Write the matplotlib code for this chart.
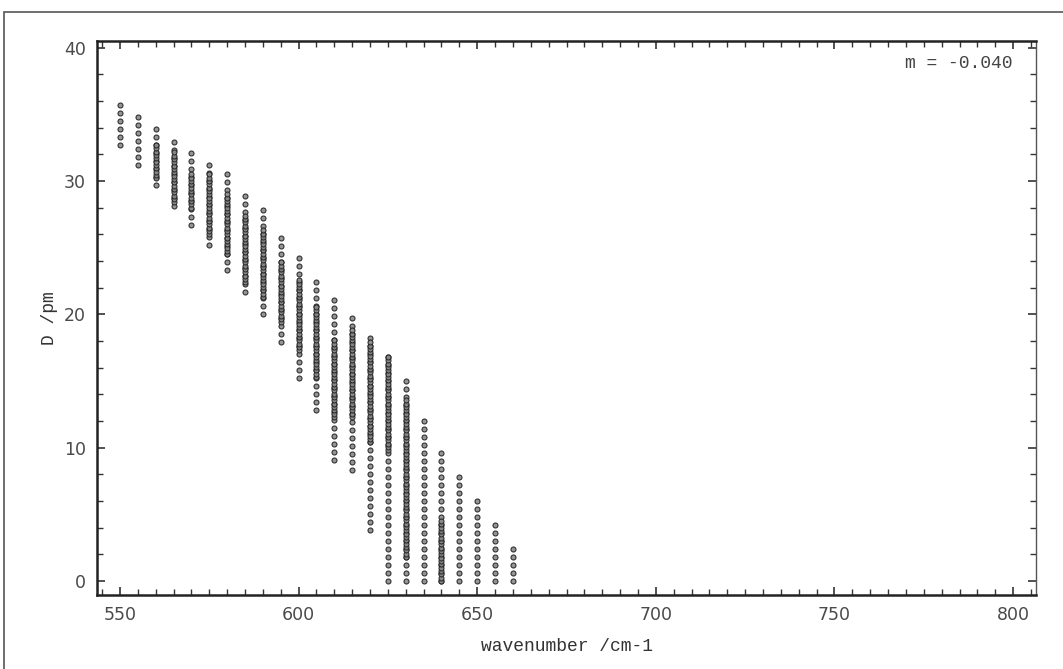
import numpy as np
import matplotlib
matplotlib.use('Agg')
import matplotlib.pyplot as plt
from matplotlib.patches import Rectangle

# wavenumber columns (cm-1)
wavenumber = [550, 555, 560, 565, 570, 575, 580, 585, 590, 595, 600, 605,
              610, 615, 620, 625, 630, 635, 640, 645, 650, 655, 660]
# full extent of each column (pm)
d_top = [35.7, 35.2, 34.2, 33.3, 32.6, 31.6, 30.5, 29.1, 28.0, 26.0, 24.5, 22.6,
         21.1, 20.1, 18.5, 17.3, 15.2, 12.2, 9.8, 8.1, 6.3, 4.4, 2.5]
d_bot = [32.7, 31.2, 29.7, 28.1, 26.7, 25.2, 23.3, 21.7, 20.0, 17.9, 15.2, 12.8,
         9.1, 8.3, 3.8, 0.0, 0.0, 0.0, 0.0, 0.0, 0.0, 0.0, 0.0]
# dense part of each column (None = sparse only)
core_top = [None, None, 32.7, 32.2, 30.5, 30.5, 29.2, 27.6, 26.3, 24.1, 22.6, 20.6,
            18.1, 18.8, 17.9, 16.8, 13.6, None, 4.6, None, None, None, None]
core_bot = [None, None, 30.2, 28.4, 28.0, 26.0, 24.5, 22.4, 21.3, 19.4, 17.3, 15.3,
            12.3, 12.3, 10.4, 9.8, 1.8, None, 0.0, None, None, None, None]

sparse_step = 0.6
dense_step = 0.25

xs = []
ys = []
for i in range(len(wavenumber)):
    pts = list(np.arange(d_bot[i], d_top[i] + 0.01, sparse_step))
    if core_top[i] is not None:
        pts += list(np.arange(core_bot[i], core_top[i] + 0.01, dense_step))
    xs += [wavenumber[i]] * len(pts)
    ys += pts

fig = plt.figure(figsize=(10.63, 6.69), dpi=100)
ax = fig.add_axes([0.0913, 0.1106, 0.8833, 0.8281])

# outer frame round the whole picture
fig.patches.append(Rectangle((0.004, -0.01), 1.0, 0.992, transform=fig.transFigure,
                             fill=False, edgecolor='#555555', linewidth=1.2))

ax.plot(xs, ys, linestyle='none', marker='o', markersize=3.6,
        markerfacecolor='#8a8a8a', markeredgecolor='#222222', markeredgewidth=0.8,
        alpha=0.9)

ax.set_xlim(543.6, 806.4)
ax.set_ylim(-1.05, 40.5)
ax.set_xticks([550, 600, 650, 700, 750, 800])
ax.set_xticks(np.arange(545, 806, 5), minor=True)
ax.set_yticks([0, 10, 20, 30, 40])
ax.set_yticks(np.arange(0, 41, 2), minor=True)
ax.tick_params(which='both', direction='in', top=True, right=True, colors='#333333',
               labelcolor='#4a4a4a', labelsize=12.5)
ax.tick_params(which='major', length=6, width=1.2, pad=8)
ax.tick_params(which='minor', length=4, width=1.0)
for side in ['left', 'bottom', 'top']:
    ax.spines[side].set_linewidth(1.8)
    ax.spines[side].set_color('#222222')
ax.spines['right'].set_linewidth(1.0)
ax.spines['right'].set_color('#555555')

ax.set_xlabel('wavenumber /cm-1', family='Liberation Mono', fontsize=13,
              color='#333333', labelpad=10)
ax.set_ylabel('D /pm', family='Liberation Mono', fontsize=13, color='#333333',
              labelpad=4)
ax.text(0.975, 0.975, 'm = -0.040', transform=ax.transAxes, ha='right', va='top',
        family='Liberation Mono', fontsize=13, color='#444444')

fig.savefig('out.png', dpi=100)
